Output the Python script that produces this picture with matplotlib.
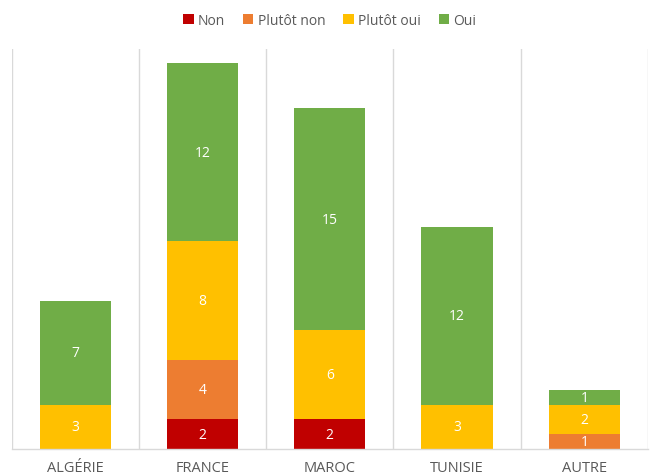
import matplotlib.pyplot as plt
import numpy as np

plt.rcParams['font.family'] = ['Open Sans', 'DejaVu Sans']

pays = ['ALGÉRIE', 'FRANCE', 'MAROC', 'TUNISIE', 'AUTRE']
non = [0, 2, 2, 0, 0]
plutot_non = [0, 4, 0, 0, 1]
plutot_oui = [3, 8, 6, 3, 2]
oui = [7, 12, 15, 12, 1]

series = [('Non', non, '#C00000'),
          ('Plutôt non', plutot_non, '#ED7D31'),
          ('Plutôt oui', plutot_oui, '#FFC000'),
          ('Oui', oui, '#70AD47')]

fig = plt.figure(figsize=(6.51, 4.77), dpi=100)
ax = fig.add_axes([11.5 / 651, 1 - 450 / 477, (648 - 11.5) / 651, (450 - 49.5) / 477])

x = np.arange(len(pays))
bottom = np.zeros(len(pays))
for name, vals, color in series:
    vals = np.array(vals, dtype=float)
    ax.bar(x, vals, 0.56, bottom=bottom, color=color, label=name, zorder=2)
    for xi, b, v in zip(x, bottom, vals):
        if v > 0:
            ax.text(xi, b + v / 2, f'{int(v)}', ha='center', va='center',
                    color='white', fontsize=10, zorder=3)
    bottom += vals

ax.set_xlim(-0.5, len(pays) - 0.5)
ax.set_ylim(0, 27)

# separators between categories
for s in np.arange(-0.5, len(pays), 1.0):
    ax.axvline(s, color='#D9D9D9', lw=1, zorder=1)

for side in ['top', 'right', 'left']:
    ax.spines[side].set_visible(False)
ax.spines['bottom'].set_color('#D9D9D9')
ax.spines['bottom'].set_linewidth(1)

ax.set_yticks([])
ax.set_xticks(x)
ax.set_xticklabels(pays, color='#595959', fontsize=10.5)
ax.tick_params(axis='x', length=0, pad=8)

ax.legend(loc='upper center', bbox_to_anchor=(0.5, 1.12), ncol=4, frameon=False,
          fontsize=10, handlelength=0.75, handleheight=0.75, handletextpad=0.3,
          columnspacing=1.3, labelcolor='#595959')

fig.savefig('out.png', dpi=100)
